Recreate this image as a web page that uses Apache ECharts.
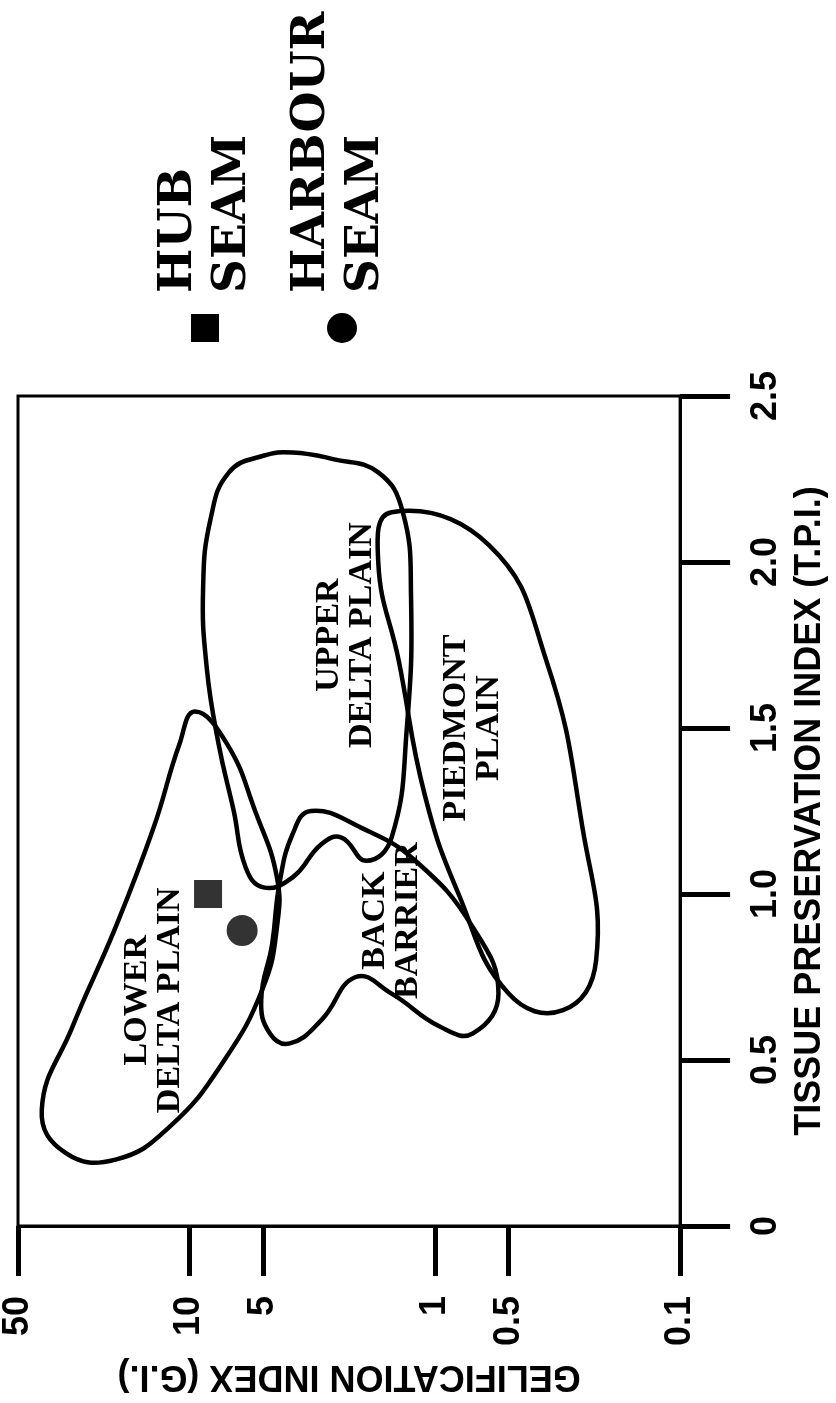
<!DOCTYPE html>
<html>
<head>
<meta charset="utf-8">
<script src="https://cdn.jsdelivr.net/npm/echarts@6/dist/echarts.min.js"></script>
<style>
  html, body { margin: 0; padding: 0; background: #fff; }
  #chart { width: 836px; height: 1403px; }
</style>
</head>
<body>
<div id="chart"></div>
<script>
// Axis tick values
const tpiTicks = [0, 0.5, 1.0, 1.5, 2.0, 2.5];
const giTicks = [0.1, 0.5, 1, 5, 10, 50];

// Facies field outlines, [T.P.I., G.I.] pairs
const lowerDeltaPlain = [[1.55, 9.5], [1.45, 7], [1.25, 5.4], [1.05, 4.4], [0.9, 4.4], [0.72, 5.0], [0.5, 7.2], [0.3, 12], [0.2, 20], [0.22, 32], [0.35, 40], [0.6, 30], [0.9, 20], [1.2, 14], [1.45, 11]];
const upperDeltaPlain = [[2.32, 5.0], [2.27, 6.9], [2.13, 8.2], [1.92, 8.8], [1.68, 8.5], [1.45, 7.6], [1.25, 6.6], [1.08, 5.9], [1.02, 5.0], [1.05, 3.8], [1.15, 2.9], [1.17, 2.4], [1.1, 1.9], [1.17, 1.5], [1.5, 1.3], [1.9, 1.25], [2.15, 1.35], [2.27, 1.7], [2.31, 2.6], [2.33, 3.8]];
const backBarrier = [[1.25, 3.2], [1.18, 3.8], [1.03, 4.3], [0.85, 4.6], [0.68, 5.1], [0.58, 4.7], [0.55, 3.9], [0.62, 2.9], [0.75, 2.1], [0.7, 1.5], [0.6, 0.95], [0.58, 0.7], [0.7, 0.55], [0.9, 0.7], [1.1, 1.2], [1.2, 2]];
const piedmontPlain = [[2.15, 1.5], [2.05, 0.6], [1.7, 0.35], [1.2, 0.25], [0.8, 0.22], [0.65, 0.3], [0.7, 0.5], [1.0, 0.8], [1.3, 1.1], [1.7, 1.4], [2.0, 1.7]];

// Field names and where they are written, [T.P.I., G.I.]
const fieldNames = ['LOWER\nDELTA PLAIN', 'UPPER\nDELTA PLAIN', 'BACK\nBARRIER', 'PIEDMONT\nPLAIN'];
const fieldNameAt = [[0.68, 14], [1.78, 2.3], [0.92, 1.5], [1.5, 0.7]];

// Seam samples, [T.P.I., G.I.]
const hubSeam = [[1.0, 8.4]];
const harbourSeam = [[0.89, 6.1]];

const lg = Math.log10;
const LABEL_FONT = 'Liberation Sans';
const FIELD_FONT = 'Liberation Serif';
const LEGEND_FONT = 'DejaVu Serif';

function fmtGI(v) {
  const x = Math.pow(10, v);
  return x < 1 ? x.toFixed(1) : String(Math.round(x));
}

function fieldSeries(outline, name, at) {
  return {
    type: 'custom',
    coordinateSystem: 'cartesian2d',
    silent: true,
    z: 2,
    data: outline.map(p => [lg(p[1]), p[0]]),
    encode: { x: 0, y: 1 },
    renderItem: function (params, api) {
      if (params.dataIndex !== 0) return null;
      const pts = outline.map(p => api.coord([lg(p[1]), p[0]]));
      const c = api.coord([lg(at[1]), at[0]]);
      return {
        type: 'group',
        children: [
          {
            type: 'polygon',
            shape: { points: pts, smooth: 0.45 },
            style: { fill: 'none', stroke: '#000', lineWidth: 4.5 }
          },
          {
            type: 'text',
            x: c[0], y: c[1],
            rotation: Math.PI / 2,
            style: {
              text: name,
              font: 'bold 34px "' + FIELD_FONT + '"',
              fill: '#000',
              align: 'center',
              verticalAlign: 'middle',
              lineHeight: 33
            }
          }
        ]
      };
    }
  };
}

const chart = echarts.init(document.getElementById('chart'), null, { renderer: 'canvas' });

chart.setOption({
  backgroundColor: '#fff',
  animation: false,
  grid: {
    left: 16, right: 136, top: 396, bottom: 177,
    show: true, borderColor: '#000', borderWidth: 3, backgroundColor: 'transparent'
  },
  xAxis: {
    type: 'value',
    min: lg(0.1), max: lg(50),
    inverse: true,
    position: 'bottom',
    splitLine: { show: false },
    axisLine: { show: true, onZero: false, lineStyle: { color: '#000', width: 3 } },
    axisTick: { show: true, inside: false, length: 50, customValues: giTicks.map(lg), lineStyle: { color: '#000', width: 5 } },
    axisLabel: {
      show: true, rotate: 90, margin: 70,
      customValues: giTicks.map(lg),
      formatter: fmtGI,
      fontFamily: LABEL_FONT, fontWeight: 'bold', fontSize: 36, color: '#000'
    },
    name: 'GELIFICATION INDEX (G.I.)',
    nameLocation: 'middle',
    nameRotate: 180,
    nameGap: 132,
    nameTextStyle: { fontFamily: LABEL_FONT, fontWeight: 'bold', fontSize: 36, color: '#000' }
  },
  yAxis: {
    type: 'value',
    min: 0, max: 2.5, interval: 0.5,
    position: 'right',
    splitLine: { show: false },
    axisLine: { show: true, onZero: false, lineStyle: { color: '#000', width: 3 } },
    axisTick: { show: true, inside: false, length: 50, lineStyle: { color: '#000', width: 5 } },
    axisLabel: {
      show: true, rotate: 90, margin: 68,
      formatter: v => (v === 0 ? '0' : v.toFixed(1)),
      fontFamily: LABEL_FONT, fontWeight: 'bold', fontSize: 36, color: '#000'
    },
    name: 'TISSUE PRESERVATION INDEX (T.P.I.)',
    nameLocation: 'middle',
    nameRotate: 90,
    nameGap: 110,
    nameTextStyle: { fontFamily: LABEL_FONT, fontWeight: 'bold', fontSize: 36, color: '#000' }
  },
  series: [
    fieldSeries(lowerDeltaPlain, fieldNames[0], fieldNameAt[0]),
    fieldSeries(upperDeltaPlain, fieldNames[1], fieldNameAt[1]),
    fieldSeries(backBarrier, fieldNames[2], fieldNameAt[2]),
    fieldSeries(piedmontPlain, fieldNames[3], fieldNameAt[3]),
    {
      name: 'HUB SEAM', type: 'scatter', symbol: 'rect', symbolSize: 28, z: 5,
      itemStyle: { color: '#000' },
      data: hubSeam.map(p => [lg(p[1]), p[0]])
    },
    {
      name: 'HARBOUR SEAM', type: 'scatter', symbol: 'circle', symbolSize: 31, z: 5,
      itemStyle: { color: '#000' },
      data: harbourSeam.map(p => [lg(p[1]), p[0]])
    }
  ],
  graphic: [
    { type: 'rect', shape: { x: 191, y: 314, width: 28, height: 28 }, style: { fill: '#000' } },
    {
      type: 'text', x: 206, y: 293, rotation: Math.PI / 2,
      style: { text: 'HUB\nSEAM', font: 'bold 47px "' + LEGEND_FONT + '"', fill: '#000', align: 'left', verticalAlign: 'middle', lineHeight: 54 }
    },
    { type: 'circle', shape: { cx: 342, cy: 328, r: 15 }, style: { fill: '#000' } },
    {
      type: 'text', x: 339, y: 293, rotation: Math.PI / 2,
      style: { text: 'HARBOUR\nSEAM', font: 'bold 47px "' + LEGEND_FONT + '"', fill: '#000', align: 'left', verticalAlign: 'middle', lineHeight: 54 }
    }
  ]
});
</script>
</body>
</html>
